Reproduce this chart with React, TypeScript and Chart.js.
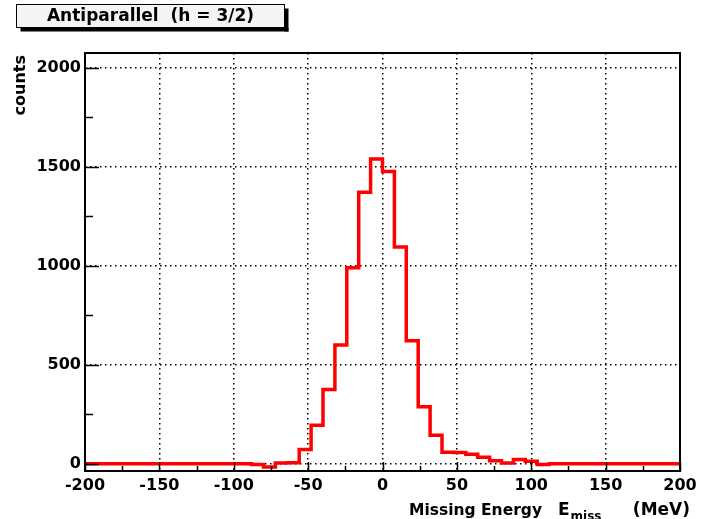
import React, { useEffect, useRef } from "react";
import { Chart, registerables } from "chart.js";

Chart.register(...registerables);

// Histogram binning (MeV)
const X_MIN = -200;
const X_MAX = 200;
const BIN_WIDTH = 8;

// Vertical range of the frame (counts)
const Y_MIN = -37;
const Y_MAX = 2075;

// Counts per 8 MeV bin, from -200 MeV to +200 MeV
const counts = [
  0, 0, 0, 0, 0, 0, 0, 0, 0, 0,
  0, 0, 0, 0, -4, -17, 4, 5, 72, 194,
  375, 600, 990, 1371, 1540, 1476, 1095, 621, 288, 144,
  58, 57, 48, 32, 15, 4, 21, 12, -4, 0,
  0, 0, 0, 0, 0, 0, 0, 0, 0, 0,
];

const xMajorTicks = [-200, -150, -100, -50, 0, 50, 100, 150, 200];
const xMinorTicks = [-175, -125, -75, -25, 25, 75, 125, 175];
const yMajorTicks = [0, 500, 1000, 1500, 2000];
const yMinorTicks = [250, 750, 1250, 1750];

const titleText = "Antiparallel  (h = 3/2)";
const yTitle = "counts";
const xTitleMain = "Missing Energy";
const xTitleSym = "E";
const xTitleSub = "miss";
const xTitleUnit = "(MeV)";

const FONT_FAMILY = '"DejaVu Sans", "Liberation Sans", Arial, sans-serif';

const framePlugin = {
  id: "rootFrame",
  afterDraw(chart: any) {
    const { ctx, chartArea } = chart;
    const { left, right, top, bottom } = chartArea;
    const xs = chart.scales.x;
    const ys = chart.scales.y;
    ctx.save();

    // frame
    ctx.strokeStyle = "#000";
    ctx.lineWidth = 2;
    ctx.strokeRect(left, top, right - left, bottom - top);

    // inward tick marks
    ctx.lineWidth = 1.5;
    ctx.beginPath();
    xMajorTicks.forEach((v) => {
      const px = Math.round(xs.getPixelForValue(v)) + 0.5;
      ctx.moveTo(px, bottom);
      ctx.lineTo(px, bottom - 9);
    });
    xMinorTicks.forEach((v) => {
      const px = Math.round(xs.getPixelForValue(v)) + 0.5;
      ctx.moveTo(px, bottom);
      ctx.lineTo(px, bottom - 5);
    });
    yMajorTicks.forEach((v) => {
      const py = Math.round(ys.getPixelForValue(v)) + 0.5;
      ctx.moveTo(left, py);
      ctx.lineTo(left + 14, py);
    });
    yMinorTicks.forEach((v) => {
      const py = Math.round(ys.getPixelForValue(v)) + 0.5;
      ctx.moveTo(left, py);
      ctx.lineTo(left + 8, py);
    });
    ctx.stroke();

    // title box with drop shadow
    const bx = 16.5, by = 4.5, bw = 268, bh = 23;
    ctx.fillStyle = "#000";
    ctx.fillRect(bx + 4, by + bh, bw, 4);
    ctx.fillRect(bx + bw, by + 4, 4, bh);
    ctx.fillStyle = "#f4f4f4";
    ctx.fillRect(bx, by, bw, bh);
    ctx.lineWidth = 1;
    ctx.strokeStyle = "#000";
    ctx.strokeRect(bx, by, bw, bh);
    ctx.fillStyle = "#000";
    ctx.font = `bold 17px ${FONT_FAMILY}`;
    ctx.textAlign = "center";
    ctx.textBaseline = "middle";
    ctx.fillText(titleText, bx + bw / 2, by + bh / 2 + 1);

    // y-axis title, rotated, aligned to the top of the axis
    ctx.save();
    ctx.translate(21, 55);
    ctx.rotate(-Math.PI / 2);
    ctx.font = `bold 16px ${FONT_FAMILY}`;
    ctx.textAlign = "right";
    ctx.textBaseline = "middle";
    ctx.fillText(yTitle, 0, 0);
    ctx.restore();

    // x-axis title with subscript, ending at the right
    const baseY = 515;
    const symX = 558;
    ctx.textBaseline = "alphabetic";
    ctx.font = `bold 17px ${FONT_FAMILY}`;
    ctx.textAlign = "right";
    ctx.fillText(xTitleUnit, 690, baseY);
    ctx.textAlign = "left";
    ctx.fillText(xTitleSym, symX, baseY);
    const wE = ctx.measureText(xTitleSym).width;
    ctx.font = `bold 15.5px ${FONT_FAMILY}`;
    ctx.fillText(xTitleMain, 409, baseY);
    ctx.font = `bold 12px ${FONT_FAMILY}`;
    ctx.fillText(xTitleSub, symX + wE + 1, baseY + 5);

    ctx.restore();
  },
};

export default function App() {
  const canvasRef = useRef<HTMLCanvasElement | null>(null);

  useEffect(() => {
    const canvas = canvasRef.current;
    if (!canvas) return;

    const points = counts.map((c, i) => ({ x: X_MIN + i * BIN_WIDTH, y: c }));
    points.push({ x: X_MAX, y: counts[counts.length - 1] });

    const chart = new Chart(canvas, {
      type: "line",
      data: {
        datasets: [
          {
            data: points,
            stepped: "before",
            borderColor: "#ff0000",
            borderWidth: 3.5,
            pointRadius: 0,
            fill: false,
            tension: 0,
          },
        ],
      },
      options: {
        responsive: false,
        animation: false,
        layout: { padding: { left: 0, right: 34, top: 53, bottom: 0 } },
        plugins: {
          legend: { display: false },
          tooltip: { enabled: false },
          title: { display: false },
        },
        scales: {
          x: {
            type: "linear",
            min: X_MIN,
            max: X_MAX,
            z: 1,
            afterBuildTicks: (scale: any) => {
              scale.ticks = xMajorTicks.map((v) => ({ value: v }));
            },
            afterFit: (scale: any) => {
              scale.height = 48;
            },
            grid: {
              color: "#000",
              lineWidth: 1.5,
              drawTicks: false,
            },
            border: { display: false, dash: [1.5, 3.5] },
            ticks: {
              color: "#000",
              padding: 5,
              maxRotation: 0,
              autoSkip: false,
              callback: (v: any) => String(v),
              font: { family: FONT_FAMILY, size: 16, weight: "bold" },
            },
          },
          y: {
            type: "linear",
            min: Y_MIN,
            max: Y_MAX,
            z: 1,
            afterBuildTicks: (scale: any) => {
              scale.ticks = yMajorTicks.map((v) => ({ value: v }));
            },
            afterFit: (scale: any) => {
              scale.width = 85;
            },
            grid: {
              color: "#000",
              lineWidth: 1.5,
              drawTicks: false,
            },
            border: { display: false, dash: [1.5, 3.5] },
            ticks: {
              color: "#000",
              padding: 4,
              autoSkip: false,
              callback: (v: any) => String(v),
              font: { family: FONT_FAMILY, size: 16, weight: "bold" },
            },
          },
        },
      },
      plugins: [framePlugin],
    });

    return () => chart.destroy();
  }, []);

  return (
    <div style={{ position: "fixed", left: 0, top: 0, width: 714, height: 519, background: "#fff" }}>
      <canvas ref={canvasRef} width={714} height={519} style={{ display: "block", width: 714, height: 519 }} />
    </div>
  );
}
